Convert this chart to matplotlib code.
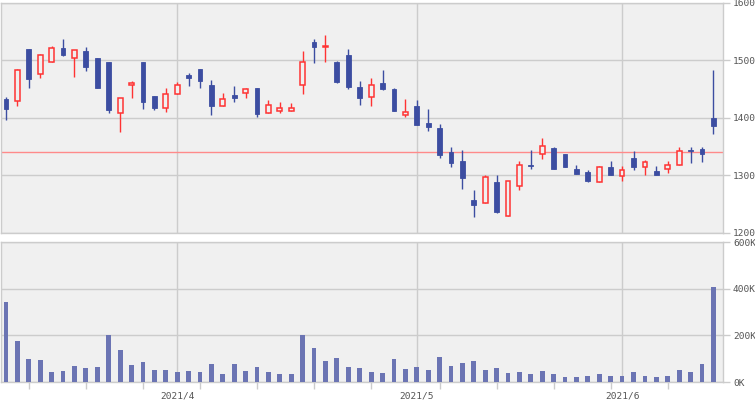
import matplotlib
matplotlib.use("Agg")
import matplotlib.pyplot as plt
import pandas as pd

dates = [
    "2021-03-11", "2021-03-12", "2021-03-15", "2021-03-16", "2021-03-17", "2021-03-18", "2021-03-19",
    "2021-03-22", "2021-03-23", "2021-03-24", "2021-03-25", "2021-03-26", "2021-03-29", "2021-03-30",
    "2021-03-31", "2021-04-01", "2021-04-02", "2021-04-05", "2021-04-06", "2021-04-07", "2021-04-08",
    "2021-04-09", "2021-04-12", "2021-04-13", "2021-04-14", "2021-04-15", "2021-04-16", "2021-04-19",
    "2021-04-20", "2021-04-21", "2021-04-22", "2021-04-23", "2021-04-26", "2021-04-27", "2021-04-28",
    "2021-04-30", "2021-05-06", "2021-05-07", "2021-05-10", "2021-05-11", "2021-05-12", "2021-05-13",
    "2021-05-14", "2021-05-17", "2021-05-18", "2021-05-19", "2021-05-20", "2021-05-21", "2021-05-24",
    "2021-05-25", "2021-05-26", "2021-05-27", "2021-05-28", "2021-05-31", "2021-06-01", "2021-06-02",
    "2021-06-03", "2021-06-04", "2021-06-07", "2021-06-08", "2021-06-09", "2021-06-10", "2021-06-11",
]

opens = [1433, 1429, 1520, 1476, 1498, 1521, 1504, 1516, 1505, 1497, 1408, 1457, 1497, 1438, 1418,
         1441, 1474, 1485, 1457, 1421, 1440, 1443, 1452, 1408, 1413, 1413, 1457, 1532, 1523, 1497,
         1510, 1454, 1437, 1461, 1450, 1406, 1420, 1391, 1383, 1340, 1325, 1257, 1252, 1289, 1230,
         1281, 1318, 1337, 1348, 1337, 1311, 1306, 1289, 1314, 1299, 1330, 1314, 1307, 1312, 1318,
         1344, 1346, 1400]
highs = [1437, 1485, 1520, 1511, 1525, 1537, 1519, 1523, 1505, 1497, 1434, 1465, 1497, 1438, 1452,
         1462, 1478, 1485, 1466, 1443, 1456, 1452, 1452, 1431, 1428, 1426, 1516, 1537, 1544, 1499,
         1520, 1464, 1470, 1483, 1453, 1433, 1431, 1416, 1390, 1350, 1344, 1275, 1301, 1300, 1290,
         1325, 1344, 1365, 1350, 1337, 1318, 1309, 1316, 1325, 1317, 1343, 1327, 1317, 1326, 1350,
         1350, 1350, 1484]
lows = [1397, 1421, 1453, 1470, 1498, 1508, 1472, 1481, 1453, 1409, 1376, 1434, 1416, 1414, 1411,
        1441, 1456, 1453, 1406, 1420, 1428, 1435, 1402, 1408, 1409, 1413, 1442, 1496, 1498, 1460,
        1450, 1423, 1421, 1449, 1413, 1401, 1388, 1378, 1331, 1314, 1277, 1228, 1252, 1234, 1230,
        1275, 1312, 1329, 1312, 1315, 1303, 1289, 1289, 1300, 1291, 1310, 1300, 1300, 1304, 1318,
        1321, 1324, 1372]
closes = [1416, 1483, 1468, 1509, 1521, 1510, 1519, 1489, 1453, 1414, 1434, 1460, 1427, 1418, 1441,
          1457, 1470, 1465, 1421, 1433, 1434, 1450, 1407, 1422, 1418, 1417, 1497, 1524, 1526, 1463,
          1454, 1434, 1457, 1450, 1413, 1410, 1388, 1385, 1336, 1322, 1296, 1248, 1297, 1237, 1290,
          1318, 1317, 1351, 1312, 1315, 1303, 1290, 1314, 1300, 1309, 1314, 1323, 1300, 1319, 1343,
          1343, 1338, 1386]
volumes_k = [345, 175, 98, 94, 43, 47, 68, 60, 64, 200, 136, 72, 85, 51, 51,
             43, 47, 43, 77, 34, 77, 47, 64, 43, 34, 34, 200, 145, 89, 102,
             64, 60, 43, 38, 98, 55, 64, 51, 106, 68, 81, 89, 51, 60, 38,
             43, 34, 47, 34, 21, 21, 26, 34, 26, 26, 43, 26, 21, 26, 51,
             43, 77, 409]
reference_price = 1340

price_ticks = [1200, 1300, 1400, 1500, 1600]
volume_ticks_k = [0, 200, 400, 600]

BG = "#f0f0f0"
GRID = "#cccccc"
TXT = "#555555"
BLUE = "#3c4da1"
RED = "#ff3333"
VOLC = "#6b74b3"
REFC = "#ff8a8a"
FONT = "DejaVu Sans Mono"
FS = 6.8

d = pd.to_datetime(pd.Series(dates))
x = list(range(len(dates)))
mondays = [i for i in x if d[i].weekday() == 0]
month_starts = [i for i in x if i > 0 and d[i].month != d[i - 1].month]
month_labels = [f"{d[i].year}/{d[i].month}" for i in month_starts]

fig = plt.figure(figsize=(7.55, 4.0), dpi=100)
L, W = 1 / 755, 721.5 / 755
ax1 = fig.add_axes([L, 167 / 400, W, 230 / 400])
ax2 = fig.add_axes([L, 18 / 400, W, 140 / 400])
xlim = (-0.44, 62.8)

for ax in (ax1, ax2):
    ax.set_facecolor(BG)
    ax.set_xlim(*xlim)
    for s in ax.spines.values():
        s.set_color(GRID)
        s.set_linewidth(1)
    ax.set_axisbelow(True)
    ax.yaxis.tick_right()
    ax.tick_params(axis="y", which="major", length=5, width=1, color=GRID,
                   labelsize=FS, labelcolor=TXT, pad=2.5)
    ax.grid(True, axis="y", color=GRID, linewidth=1)
    for m in month_starts:
        ax.axvline(m, color=GRID, linewidth=1, zorder=0.5)

# candles
bw = 0.42
for i in x:
    o, h, l, c = opens[i], highs[i], lows[i], closes[i]
    up = c > o
    col = RED if up else BLUE
    ax1.vlines(i, l, h, color=col, linewidth=1.0, zorder=2)
    bottom = min(o, c)
    height = max(abs(c - o), 0.8)
    if up:
        ax1.bar(i, height, bottom=bottom, width=bw, facecolor=BG, edgecolor=col,
                linewidth=1.1, zorder=3)
    else:
        ax1.bar(i, height, bottom=bottom, width=bw, facecolor=col, edgecolor=col,
                linewidth=0.6, zorder=3)

ax1.axhline(reference_price, color=REFC, linewidth=1, zorder=1.5)
ax1.set_ylim(price_ticks[0], price_ticks[-1])
ax1.set_yticks(price_ticks)
ax1.set_yticklabels([str(v) for v in price_ticks], family=FONT)
ax1.set_xticks([])

# volume
ax2.bar(x, [v * 1000 for v in volumes_k], width=bw, color=VOLC, zorder=3)
ax2.set_ylim(0, volume_ticks_k[-1] * 1000)
ax2.set_yticks([v * 1000 for v in volume_ticks_k])
ax2.set_yticklabels([f"{v}K" for v in volume_ticks_k], family=FONT)
ax2.set_xticks(mondays)
ax2.set_xticklabels([])
ax2.tick_params(axis="x", which="major", length=5, width=1, color=GRID)
ax2.set_xticks(month_starts, minor=True)
ax2.set_xticklabels(month_labels, minor=True, family=FONT)
ax2.tick_params(axis="x", which="minor", length=0, labelsize=FS, labelcolor=TXT, pad=7)

fig.savefig("out.png", dpi=100, facecolor="white")
